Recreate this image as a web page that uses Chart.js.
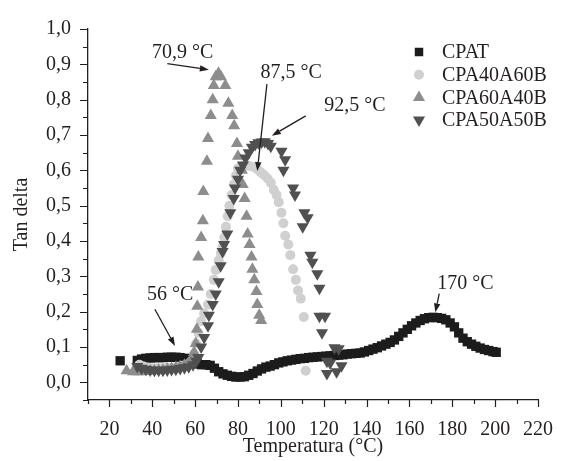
<!DOCTYPE html>
<html>
<head>
<meta charset="utf-8">
<script src="https://cdn.jsdelivr.net/npm/chart.js@4.4.1/dist/chart.umd.min.js"></script>
<style>
  html, body { margin: 0; padding: 0; background: #fff; }
  #wrap { width: 571px; height: 461px; }
</style>
</head>
<body>
<div id="wrap"><canvas id="chart" width="571" height="461"></canvas></div>
<script>
// series as [temperature °C, tan delta]
const SERIES_NAMES = ['CPAT', 'CPA40A60B', 'CPA60A40B', 'CPA50A50B'];

const cpat = [
  [25, 0.061],
  [33, 0.062], [35, 0.066], [37, 0.068], [39, 0.069], [41, 0.07], [43, 0.07], [45, 0.07],
  [47, 0.071], [49, 0.071], [51, 0.071], [53, 0.07], [55, 0.068], [57, 0.065], [59, 0.058],
  [61, 0.052], [63, 0.05], [65, 0.05], [67, 0.048], [69, 0.04], [71, 0.03], [73, 0.024],
  [75, 0.02], [77, 0.017], [79, 0.015], [81, 0.015], [83, 0.016], [85, 0.02], [87, 0.025],
  [89, 0.032], [91, 0.038], [93, 0.043], [95, 0.046], [97, 0.05], [99, 0.055], [101, 0.058],
  [103, 0.061], [105, 0.063], [107, 0.065], [109, 0.067], [111, 0.068], [113, 0.07],
  [115, 0.071], [117, 0.072], [119, 0.073], [121, 0.074], [123, 0.075], [125, 0.076],
  [127, 0.077], [129, 0.078], [131, 0.08], [133, 0.081], [135, 0.082], [137, 0.083],
  [139, 0.086], [141, 0.09], [143, 0.094], [145, 0.098], [147, 0.103], [149, 0.108],
  [151, 0.113], [153, 0.12], [155, 0.13], [157, 0.14], [159, 0.15], [161, 0.16],
  [163, 0.168], [165, 0.175], [167, 0.18], [169, 0.183], [171, 0.184], [173, 0.183],
  [175, 0.181], [177, 0.177], [179, 0.168], [181, 0.157], [183, 0.14], [185, 0.125],
  [187, 0.115], [189, 0.108], [191, 0.102], [193, 0.097], [195, 0.093], [197, 0.09],
  [199, 0.087], [200.5, 0.085],
];

const cpa40a60b = [
  [34, 0.05], [36, 0.045], [38, 0.042], [40, 0.04], [42, 0.04], [44, 0.04], [46, 0.04],
  [48, 0.041], [50, 0.042], [52, 0.044], [54, 0.047], [56, 0.05], [58, 0.058],
  [59.5, 0.08], [60.5, 0.11], [61.5, 0.14], [62.8, 0.173], [64.2, 0.195], [66, 0.22],
  [67.3, 0.25], [68.7, 0.29], [69.6, 0.318], [71, 0.345], [72, 0.365], [72.8, 0.383],
  [73.6, 0.41], [74.4, 0.44], [75.2, 0.47], [76, 0.5], [77, 0.53], [78, 0.56], [79, 0.585],
  [80, 0.605], [81.5, 0.61], [83, 0.612], [85, 0.613], [87, 0.61], [89, 0.603],
  [90.5, 0.595], [92.2, 0.587], [93.8, 0.577], [95.3, 0.565], [96.7, 0.545], [98, 0.53],
  [99, 0.51], [100.3, 0.48], [101.2, 0.45], [102, 0.415], [103.5, 0.39], [104.4, 0.36],
  [105.7, 0.32], [107, 0.29], [108, 0.26], [109.3, 0.237], [110.7, 0.185], [111.6, 0.033],
];

const cpa60a40b = [
  [28, 0.033], [31, 0.03], [33, 0.03], [35, 0.03], [37, 0.031], [39, 0.032], [41, 0.033],
  [43, 0.034], [45, 0.035], [47, 0.037], [49, 0.039], [51, 0.041], [53, 0.044], [55, 0.048],
  [57, 0.055], [58.5, 0.065], [59.5, 0.085], [60.3, 0.11], [60.8, 0.15], [61, 0.215],
  [61.3, 0.27], [61.5, 0.355], [62.8, 0.41], [63.6, 0.457], [63.8, 0.54], [65.5, 0.626],
  [66, 0.69], [67.3, 0.755], [68.2, 0.8], [68.7, 0.84], [69.6, 0.865], [70.9, 0.875],
  [72, 0.865], [74.1, 0.84], [75.5, 0.79], [77.3, 0.755], [78.2, 0.726], [79.5, 0.676],
  [80, 0.64], [81.8, 0.6], [82.2, 0.56], [83.1, 0.52], [84, 0.47], [84.5, 0.42],
  [85.4, 0.39], [86.3, 0.355], [86.7, 0.32], [87.6, 0.29], [88.6, 0.257], [89, 0.22],
  [89.9, 0.19], [90.8, 0.175],
];

const cpa50a50b = [
  [33, 0.045], [35, 0.04], [37, 0.037], [39, 0.035], [41, 0.034], [43, 0.034], [45, 0.034],
  [47, 0.035], [49, 0.036], [51, 0.037], [53, 0.039], [55, 0.041], [57, 0.044], [59, 0.05],
  [60.5, 0.06], [61.5, 0.07], [62.8, 0.1], [64.2, 0.127], [66, 0.16], [66.4, 0.19],
  [68.2, 0.22], [69.6, 0.25], [71, 0.285], [71.9, 0.33], [72.8, 0.37], [73.5, 0.39],
  [75, 0.42], [76.4, 0.48], [78, 0.52], [78.6, 0.55], [80, 0.575], [81, 0.6],
  [82.3, 0.615], [83.5, 0.635], [85, 0.65], [86.5, 0.665], [88, 0.673], [89.5, 0.678],
  [91, 0.68], [92.5, 0.681], [94, 0.676], [95.3, 0.668],
  [100.3, 0.654], [102, 0.63], [101.2, 0.6], [105.7, 0.55], [106.6, 0.53], [110.2, 0.44],
  [111, 0.48], [112.5, 0.466], [113.8, 0.36], [114.7, 0.34], [117, 0.307], [118, 0.266],
  [118, 0.187], [120.6, 0.187], [119.2, 0.14], [125, 0.098], [127, 0.095], [121.5, 0.06],
  [123, 0.055], [128.3, 0.047], [121.5, 0.025], [126, 0.03],
];

const X_TICK_LABELS = [20, 40, 60, 80, 100, 120, 140, 160, 180, 200, 220];
const Y_TICK_LABELS = ['0,0', '0,1', '0,2', '0,3', '0,4', '0,5', '0,6', '0,7', '0,8', '0,9', '1,0'];

// peak notes: label centre, arrow tail, arrow tip (data coords)
const PEAK_NOTES = [
  { text: '70,9 °C', at: [54.2, 0.933], from: [47, 0.902], to: [66.4, 0.885] },
  { text: '87,5 °C', at: [104.8, 0.877], from: [93.5, 0.844], to: [89, 0.598] },
  { text: '92,5 °C', at: [134.6, 0.782], from: [111.6, 0.754], to: [95.8, 0.698] },
  { text: '56 °C', at: [48.4, 0.249], from: [41.2, 0.207], to: [50.6, 0.103] },
  { text: '170 °C', at: [186.1, 0.279], from: [173.9, 0.251], to: [172.1, 0.198] },
];

const INK = '#231f20';
const FONT = 'Liberation Serif, Times New Roman, serif';
const STYLES = [
  { color: '#1c1c1c', pointStyle: 'rect', radius: 6.6, rotation: 0 },
  { color: '#d0d0d0', pointStyle: 'circle', radius: 5, rotation: 0 },
  { color: '#8d8d8d', pointStyle: 'triangle', radius: 7, rotation: 0 },
  { color: '#505050', pointStyle: 'triangle', radius: 7, rotation: 180 },
];

const toXY = (pairs) => pairs.map(([x, y]) => ({ x, y }));

const axisTicks = {
  id: 'axisTicks',
  afterDraw(chart) {
    const { ctx, scales: { x, y } } = chart;
    ctx.save();
    ctx.strokeStyle = INK;
    ctx.lineWidth = 1.2;
    ctx.beginPath();
    x.ticks.forEach((t) => {
      const px = Math.round(x.getPixelForValue(t.value)) + 0.5;
      const len = t.value % 20 === 0 ? 7 : 4;
      ctx.moveTo(px, x.top);
      ctx.lineTo(px, x.top + len);
    });
    y.ticks.forEach((t) => {
      const py = Math.round(y.getPixelForValue(t.value)) + 0.5;
      const len = Math.round(t.value * 100) % 10 === 0 ? 8 : 5;
      ctx.moveTo(y.right, py);
      ctx.lineTo(y.right - len, py);
    });
    ctx.stroke();
    ctx.restore();
  },
};

function drawArrow(ctx, x1, y1, x2, y2) {
  const ang = Math.atan2(y2 - y1, x2 - x1);
  const head = 9, half = 3.2;
  const bx = x2 - Math.cos(ang) * head, by = y2 - Math.sin(ang) * head;
  ctx.beginPath();
  ctx.moveTo(x1, y1);
  ctx.lineTo(bx, by);
  ctx.stroke();
  ctx.beginPath();
  ctx.moveTo(x2, y2);
  ctx.lineTo(bx + Math.sin(ang) * half, by - Math.cos(ang) * half);
  ctx.lineTo(bx - Math.sin(ang) * half, by + Math.cos(ang) * half);
  ctx.closePath();
  ctx.fill();
}

const peakNotes = {
  id: 'peakNotes',
  afterDatasetsDraw(chart) {
    const { ctx, scales: { x, y } } = chart;
    ctx.save();
    ctx.fillStyle = INK;
    ctx.strokeStyle = INK;
    ctx.lineWidth = 1.3;
    ctx.font = `20px ${FONT}`;
    ctx.textAlign = 'center';
    ctx.textBaseline = 'middle';
    PEAK_NOTES.forEach((n) => {
      ctx.fillText(n.text, x.getPixelForValue(n.at[0]), y.getPixelForValue(n.at[1]));
      drawArrow(ctx,
        x.getPixelForValue(n.from[0]), y.getPixelForValue(n.from[1]),
        x.getPixelForValue(n.to[0]), y.getPixelForValue(n.to[1]));
    });
    ctx.restore();
  },
};

const insideLegend = {
  id: 'insideLegend',
  afterDraw(chart) {
    const { ctx } = chart;
    const mx = 419, tx = 442, top = 52, row = 22.7;
    const legendRadius = [6, 5, 7, 7];
    ctx.save();
    ctx.font = `20px ${FONT}`;
    ctx.textAlign = 'left';
    ctx.textBaseline = 'middle';
    SERIES_NAMES.forEach((name, i) => {
      const s = STYLES[i];
      const cy = top + i * row;
      ctx.fillStyle = s.color;
      ctx.strokeStyle = s.color;
      Chart.helpers.drawPoint(ctx, { pointStyle: s.pointStyle, radius: legendRadius[i], rotation: s.rotation, borderWidth: 0 }, mx, cy);
      ctx.fillStyle = INK;
      ctx.fillText(name, tx, cy + 1);
    });
    ctx.restore();
  },
};

const datasets = [cpat, cpa40a60b, cpa60a40b, cpa50a50b].map((pairs, i) => ({
  label: SERIES_NAMES[i],
  data: toXY(pairs),
  pointStyle: STYLES[i].pointStyle,
  pointRotation: STYLES[i].rotation,
  pointRadius: STYLES[i].radius,
  pointHoverRadius: STYLES[i].radius,
  pointBorderWidth: 0,
  backgroundColor: STYLES[i].color,
  borderColor: STYLES[i].color,
  order: 4 - i,
}));

const tickFont = { family: FONT, size: 20 };

new Chart(document.getElementById('chart'), {
  type: 'scatter',
  data: { datasets },
  options: {
    responsive: false,
    animation: false,
    events: [],
    layout: { padding: { top: 24, right: 17, left: 0, bottom: 0 } },
    plugins: { legend: { display: false }, tooltip: { enabled: false } },
    scales: {
      x: {
        type: 'linear',
        min: 10,
        max: 220,
        grid: { display: false, drawTicks: false },
        border: { display: true, color: INK, width: 1.3 },
        ticks: {
          stepSize: 10,
          autoSkip: false,
          maxRotation: 0,
          padding: 18,
          color: INK,
          font: tickFont,
          callback: (v) => (X_TICK_LABELS.includes(v) ? String(v) : ''),
        },
        title: {
          display: true,
          text: 'Temperatura (°C)',
          color: INK,
          font: tickFont,
          padding: { top: 0, bottom: 2 },
        },
        afterFit: (s) => { s.height = 61; },
      },
      y: {
        type: 'linear',
        min: -0.05,
        max: 1.0,
        grid: { display: false, drawTicks: false },
        border: { display: true, color: INK, width: 1.3 },
        ticks: {
          stepSize: 0.05,
          autoSkip: false,
          padding: 17,
          color: INK,
          font: tickFont,
          callback: (v) => {
            const k = Math.round(v * 100);
            return k >= 0 && k % 10 === 0 ? Y_TICK_LABELS[k / 10] : '';
          },
        },
        title: {
          display: true,
          text: 'Tan delta',
          color: INK,
          font: tickFont,
          padding: { top: 10, bottom: 0 },
        },
        afterFit: (s) => { s.width = 88; },
      },
    },
  },
  plugins: [axisTicks, peakNotes, insideLegend],
});
</script>
</body>
</html>
